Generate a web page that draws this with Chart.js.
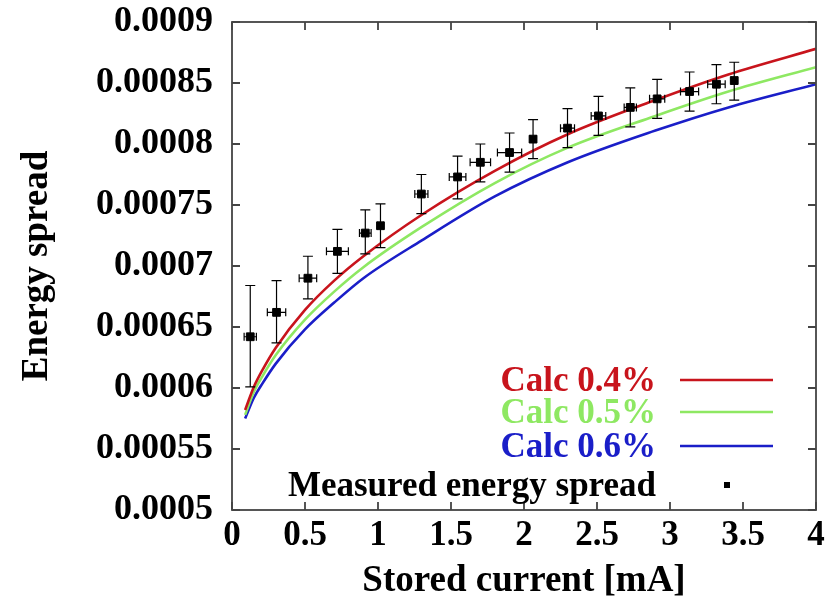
<!DOCTYPE html>
<html lang="en">
<head>
  <meta charset="UTF-8">
  <title>Energy spread vs stored current</title>
  <script src="https://cdn.jsdelivr.net/npm/chart.js"></script>
  <style>
    body { margin: 0; background: #fff; }
    #wrap { width: 838px; height: 606px; position: relative; }
  </style>
</head>
<body>
  <div id="wrap"><canvas id="grafik"></canvas></div>
  <script>
    // calculated curves
    const calcX  = [0.09, 0.15, 0.21, 0.3, 0.5, 0.7, 0.9, 1.3, 1.8, 2.3, 2.9, 3.4, 4.0];
    const calc04 = [0.000582, 0.000601, 0.000615, 0.000633, 0.000664, 0.000688, 0.000708, 0.000742, 0.000778, 0.000808, 0.000836, 0.000857, 0.000878];
    const calc05 = [0.000578, 0.000597, 0.00061, 0.000627, 0.000656, 0.000679, 0.000699, 0.000732, 0.000768, 0.000797, 0.000823, 0.000843, 0.000863];
    const calc06 = [0.000575, 0.000592, 0.000604, 0.00062, 0.000648, 0.00067, 0.00069, 0.000721, 0.000757, 0.000785, 0.000811, 0.00083, 0.000849];

    // measured points with error bars
    const measX    = [0.125, 0.305, 0.52, 0.722, 0.913, 1.017, 1.297, 1.545, 1.701, 1.901, 2.062, 2.298, 2.51, 2.728, 2.912, 3.134, 3.318, 3.44];
    const measY    = [0.000642, 0.000662, 0.00069, 0.000712, 0.000727, 0.000733, 0.000759, 0.000773, 0.000785, 0.000793, 0.000804, 0.000813, 0.000823, 0.00083, 0.000837, 0.000843, 0.000849, 0.000852];
    const measLow  = [0.000601, 0.000637, 0.000673, 0.000694, 0.00071, 0.000715, 0.000743, 0.000755, 0.000769, 0.000777, 0.000788, 0.000797, 0.000807, 0.000814, 0.000821, 0.000827, 0.000833, 0.000836];
    const measHigh = [0.000684, 0.000688, 0.000708, 0.00073, 0.000746, 0.000751, 0.000775, 0.00079, 0.0008, 0.000809, 0.00082, 0.000829, 0.000839, 0.000846, 0.000853, 0.000859, 0.000865, 0.000867];
    const measXErr = [0.042, 0.063, 0.06, 0.075, 0.04, 0.02, 0.045, 0.057, 0.07, 0.083, 0.02, 0.048, 0.05, 0.042, 0.052, 0.062, 0.06, 0.02];

    const xTicks = [0, 0.5, 1, 1.5, 2, 2.5, 3, 3.5, 4];
    const yTicks = [0.0005, 0.00055, 0.0006, 0.00065, 0.0007, 0.00075, 0.0008, 0.00085, 0.0009];

    const SERIF = '"Liberation Serif", "Times New Roman", serif';
    const warna = { r: '#c8141c', g: '#8ee862', b: '#1a1ec8' };

    function garis(label, ys, color) {
      return {
        label: label,
        legendColor: color,
        data: calcX.map((x, i) => ({ x: x, y: ys[i] })),
        showLine: true,
        borderColor: color,
        borderWidth: 2.6,
        pointRadius: 0,
        cubicInterpolationMode: 'monotone',
        order: 2
      };
    }

    const frameAndBars = {
      id: 'frameAndBars',
      afterDatasetsDraw(chart) {
        const { ctx, chartArea: a, scales: { x, y } } = chart;
        ctx.save();
        // error bars
        ctx.strokeStyle = '#000';
        ctx.lineWidth = 1.2;
        measX.forEach((mx, i) => {
          const px = x.getPixelForValue(mx);
          const py = y.getPixelForValue(measY[i]);
          const top = y.getPixelForValue(measHigh[i]);
          const bot = y.getPixelForValue(measLow[i]);
          const l = x.getPixelForValue(mx - measXErr[i]);
          const r = x.getPixelForValue(mx + measXErr[i]);
          ctx.beginPath();
          ctx.moveTo(px, top); ctx.lineTo(px, bot);
          ctx.moveTo(px - 5, top); ctx.lineTo(px + 5, top);
          ctx.moveTo(px - 5, bot); ctx.lineTo(px + 5, bot);
          ctx.moveTo(l, py); ctx.lineTo(r, py);
          ctx.moveTo(l, py - 4); ctx.lineTo(l, py + 4);
          ctx.moveTo(r, py - 4); ctx.lineTo(r, py + 4);
          ctx.stroke();
        });
        // frame with inward ticks
        ctx.strokeStyle = '#444';
        ctx.lineWidth = 1.8;
        ctx.strokeRect(a.left, a.top, a.right - a.left, a.bottom - a.top);
        ctx.beginPath();
        xTicks.forEach(v => {
          const p = x.getPixelForValue(v);
          ctx.moveTo(p, a.bottom); ctx.lineTo(p, a.bottom - 8);
          ctx.moveTo(p, a.top); ctx.lineTo(p, a.top + 8);
        });
        yTicks.forEach(v => {
          const p = y.getPixelForValue(v);
          ctx.moveTo(a.left, p); ctx.lineTo(a.left + 8, p);
          ctx.moveTo(a.right, p); ctx.lineTo(a.right - 8, p);
        });
        ctx.stroke();
        ctx.restore();
      },
      afterDraw(chart) {
        // legend inside, lower right
        const { ctx } = chart;
        const rows = [380, 412, 446, 485];
        ctx.save();
        ctx.font = 'bold 35px ' + SERIF;
        ctx.textAlign = 'right';
        ctx.textBaseline = 'middle';
        chart.data.datasets.forEach((ds, i) => {
          const yy = rows[i];
          ctx.fillStyle = ds.legendColor;
          ctx.fillText(ds.label, 656, yy + 2);
          if (ds.showLine) {
            ctx.strokeStyle = ds.borderColor;
            ctx.lineWidth = 2.6;
            ctx.beginPath();
            ctx.moveTo(680, yy); ctx.lineTo(773, yy);
            ctx.stroke();
          } else {
            ctx.fillStyle = '#000';
            ctx.fillRect(724, yy - 3, 6, 6);
          }
        });
        ctx.restore();
      }
    };

    const dsMeas = {
      label: 'Measured energy spread',
      legendColor: '#000',
      data: measX.map((x, i) => ({ x: x, y: measY[i] })),
      showLine: false,
      pointStyle: 'rect',
      pointRadius: 5.5,
      backgroundColor: '#000',
      borderColor: '#000',
      order: 1
    };

    const ctx = document.getElementById('grafik').getContext('2d');
    new Chart(ctx, {
      type: 'scatter',
      data: {
        datasets: [
          garis('Calc 0.4%', calc04, warna.r),
          garis('Calc 0.5%', calc05, warna.g),
          garis('Calc 0.6%', calc06, warna.b),
          dsMeas
        ]
      },
      options: {
        responsive: true,
        maintainAspectRatio: false,
        animation: false,
        layout: { padding: { top: 0, right: 22, left: 0, bottom: 0 } },
        plugins: { legend: { display: false }, tooltip: { enabled: false } },
        scales: {
          x: {
            type: 'linear',
            min: 0, max: 4,
            grid: { display: false, drawTicks: false },
            border: { display: false },
            afterBuildTicks: s => { s.ticks = xTicks.map(v => ({ value: v })); },
            afterFit: s => { s.height = 96; },
            ticks: {
              autoSkip: false,
              maxRotation: 0,
              padding: 5,
              color: '#000',
              font: { family: SERIF, size: 35, weight: 'bold' },
              callback: v => String(v)
            },
            title: {
              display: true,
              text: 'Stored current [mA]',
              color: '#000',
              font: { family: SERIF, size: 37, weight: 'bold' },
              padding: { top: 0, bottom: 2 }
            }
          },
          y: {
            min: 0.0005, max: 0.0009,
            grid: { display: false, drawTicks: false },
            border: { display: false },
            afterBuildTicks: s => { s.ticks = yTicks.map(v => ({ value: v })); },
            afterFit: s => { s.width = 232; s.paddingTop = 22; s.paddingBottom = 0; },
            ticks: {
              autoSkip: false,
              padding: 19,
              color: '#000',
              font: { family: SERIF, size: 36, weight: 'bold' },
              callback: v => parseFloat(v.toFixed(5)).toString()
            },
            title: {
              display: true,
              text: 'Energy spread',
              color: '#000',
              font: { family: SERIF, size: 37, weight: 'bold' },
              padding: { top: 15, bottom: 0 }
            }
          }
        }
      },
      plugins: [frameAndBars]
    });
  </script>
</body>
</html>
